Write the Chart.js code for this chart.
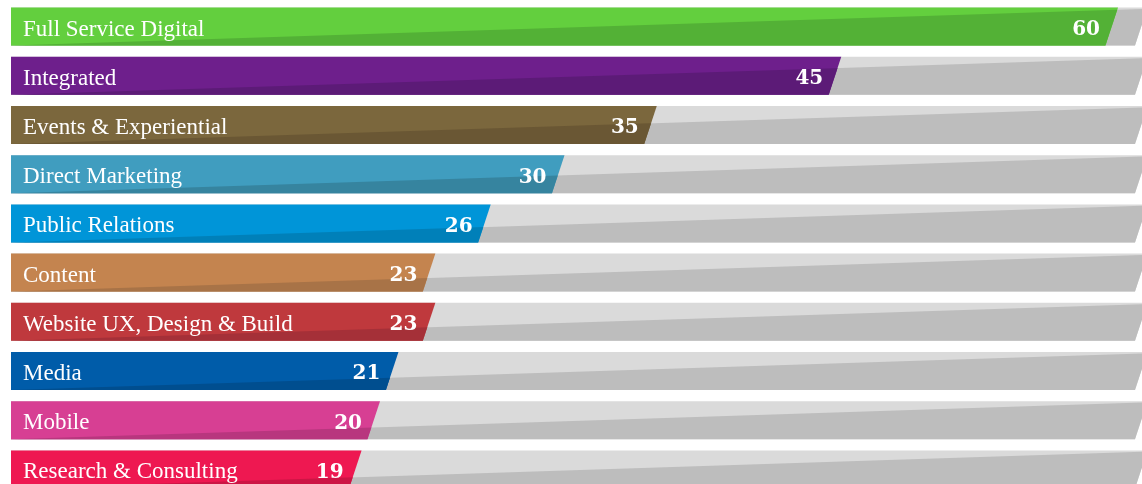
<!DOCTYPE html>
<html>
<head>
<meta charset="utf-8">
<script src="https://cdn.jsdelivr.net/npm/chart.js@4/dist/chart.umd.min.js"></script>
<style>
  html, body { margin: 0; padding: 0; background: #ffffff; overflow: hidden; }
  #wrap { width: 1142px; height: 494px; }
</style>
</head>
<body>
<div id="wrap"><canvas id="c" width="1142" height="494"></canvas></div>
<script>
const categories = [
  "Full Service Digital",
  "Integrated",
  "Events & Experiential",
  "Direct Marketing",
  "Public Relations",
  "Content",
  "Website UX, Design & Build",
  "Media",
  "Mobile",
  "Research & Consulting"
];
const values = [60, 45, 35, 30, 26, 23, 23, 21, 20, 19];
const trackValues = [61.6, 61.6, 61.6, 61.6, 61.6, 61.6, 61.6, 61.6, 61.6, 61.6];
const lightColors = ["#63cf3e", "#6e1f8c", "#7b673d", "#409dbf", "#0095d8", "#c4844f", "#bf393d", "#005ca9", "#d73f93", "#ee1851"];
const darkColors  = ["#53b136", "#5c1b77", "#6a5734", "#36849f", "#0080b9", "#a87347", "#a53038", "#004e8f", "#b8367e", "#cc1545"];
const trackLight = "#dadada";
const trackDark = "#bdbdbd";

const slantBars = {
  id: "slantBars",
  afterDatasetsDraw(chart) {
    const ctx = chart.ctx;
    const xs = chart.scales.x;
    const trackMeta = chart.getDatasetMeta(0);
    const barMeta = chart.getDatasetMeta(1);
    const drawShape = (base, endX, top, bottom, slant, lineEndX, light, dark) => {
      ctx.save();
      ctx.beginPath();
      ctx.moveTo(base, top);
      ctx.lineTo(endX, top);
      ctx.lineTo(endX - slant, bottom);
      ctx.lineTo(base, bottom);
      ctx.closePath();
      ctx.clip();
      ctx.fillStyle = light;
      ctx.fillRect(base - 2, top - 2, endX - base + 4, bottom - top + 4);
      ctx.beginPath();
      ctx.moveTo(base, bottom);
      ctx.lineTo(lineEndX, top + 1.2);
      ctx.lineTo(lineEndX + 50, top + 1.2);
      ctx.lineTo(lineEndX + 50, bottom + 2);
      ctx.lineTo(base, bottom + 2);
      ctx.closePath();
      ctx.fillStyle = dark;
      ctx.fill();
      ctx.restore();
    };
    for (let i = 0; i < categories.length; i++) {
      const t = trackMeta.data[i].getProps(["x", "y", "base", "height"], true);
      const b = barMeta.data[i].getProps(["x", "y", "base", "height"], true);
      const top = t.y - t.height / 2;
      const bottom = t.y + t.height / 2;
      const slant = t.height * 0.33;
      const lineEnd = xs.getPixelForValue(trackValues[i]);
      drawShape(t.base, t.x, top, bottom, slant, lineEnd, trackLight, trackDark);
      drawShape(b.base, b.x, top, bottom, slant, lineEnd, lightColors[i], darkColors[i]);

      ctx.save();
      ctx.fillStyle = "#ffffff";
      ctx.textBaseline = "alphabetic";
      ctx.textAlign = "left";
      ctx.font = '23px "Liberation Serif"';
      ctx.fillText(categories[i], b.base + 12, b.y + 9);
      ctx.textAlign = "right";
      ctx.font = 'bold 20px "DejaVu Serif"';
      ctx.fillText(String(values[i]), b.x - 18, b.y + 8.3);
      ctx.restore();
    }
  }
};

new Chart(document.getElementById("c"), {
  type: "bar",
  data: {
    labels: categories,
    datasets: [
      { data: trackValues, backgroundColor: "rgba(0,0,0,0)", borderWidth: 0, barThickness: 38 },
      { data: values, backgroundColor: "rgba(0,0,0,0)", borderWidth: 0, barThickness: 38 }
    ]
  },
  options: {
    indexAxis: "y",
    responsive: false,
    animation: false,
    events: [],
    devicePixelRatio: 1,
    datasets: { bar: { grouped: false } },
    layout: { padding: { left: 11, top: 2, right: 0, bottom: 0 } },
    plugins: { legend: { display: false }, tooltip: { enabled: false } },
    scales: {
      x: { display: false, min: 0, max: 61.3 },
      y: { display: false }
    }
  },
  plugins: [slantBars]
});
</script>
</body>
</html>
